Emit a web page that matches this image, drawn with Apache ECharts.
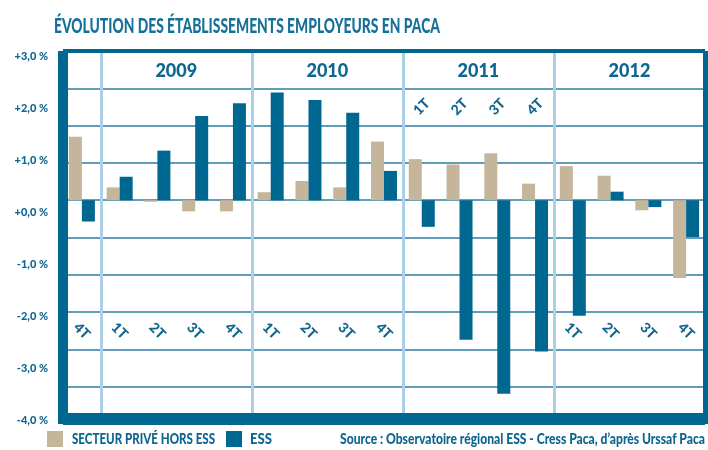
<!DOCTYPE html>
<html>
<head>
<meta charset="utf-8">
<script src="https://cdn.jsdelivr.net/npm/echarts@6/dist/echarts.min.js"></script>
<style>html,body{margin:0;padding:0;background:#fff;}#c{width:708px;height:450px;}</style>
</head>
<body>
<div id="c"></div>
<script>
const periods = ['2008 4T','2009 1T','2009 2T','2009 3T','2009 4T','2010 1T','2010 2T','2010 3T','2010 4T','2011 1T','2011 2T','2011 3T','2011 4T','2012 1T','2012 2T','2012 3T','2012 4T'];
const years = ['2009','2010','2011','2012'];
const topLabelYears = ['2011'];
const prive = [1.19, 0.24, -0.03, -0.21, -0.21, 0.15, 0.36, 0.24, 1.10, 0.77, 0.67, 0.88, 0.31, 0.64, 0.46, -0.19, -1.46];
const ess = [-0.40, 0.44, 0.93, 1.58, 1.82, 2.02, 1.88, 1.64, 0.55, -0.50, -2.62, -3.63, -2.84, -2.17, 0.16, -0.13, -0.69];
const yTickLabels = ['-4,0 %','-3,0 %','-2,0 %','-1,0 %','+0,0 %','+1,0 %','+2,0 %','+3,0 %'];
const seriesNames = ['SECTEUR PRIVÉ HORS ESS','ESS'];
const titleText = 'ÉVOLUTION DES ÉTABLISSEMENTS EMPLOYEURS EN PACA';
const sourceText = 'Source : Observatoire régional ESS - Cress Paca, d’après Urssaf Paca';

const FONT = 'Lato, Roboto, "Liberation Sans", sans-serif';
const BLUE = '#006791';
const BEIGE = '#c4b59b';
const TXT = '#0d6690';

const yearOf = p => p.split(' ')[0];
const qOf = p => p.split(' ')[1];
const yearCentre = {};
years.forEach(y => {
  const idx = periods.map((p,i)=>yearOf(p)===y?i:-1).filter(i=>i>=0);
  yearCentre[(idx[0] + idx[idx.length-1] + 1) / 2] = y;
});

// condensed look: horizontal squeeze so text fits the width it takes in the reference
const ctx = document.createElement('canvas').getContext('2d');
function squeeze(text, font, target) {
  ctx.font = font;
  return target / ctx.measureText(text).width;
}
const titleFont = '900 21px ' + FONT;
const srcFont = '900 15px ' + FONT;
const legFont = '900 15px ' + FONT;

const chart = echarts.init(document.getElementById('c'), null, {renderer:'canvas'});
const noTick = {show:false};
const legendColors = [BEIGE, BLUE];
const legendItems = [
  {sx:47, tx:72, tw:143},
  {sx:226, tx:250, tw:22}
];
const legendGraphics = [];
seriesNames.forEach((n, i) => {
  const L = legendItems[i];
  legendGraphics.push({type:'rect', x:L.sx, y:431, shape:{width:16, height:16}, style:{fill:legendColors[i]}});
  legendGraphics.push({type:'text', x:L.tx, y:439, scaleX:squeeze(n, legFont, L.tw),
    style:{text:n, fill:TXT, font:legFont, verticalAlign:'middle', align:'left'}});
});

chart.setOption({
  animation:false,
  backgroundColor:'#fff',
  textStyle:{fontFamily:FONT},
  grid:[
    {left:63, right:2.5, top:51, bottom:26},
    {left:63, right:2.5, top:56, bottom:30}
  ],
  xAxis:[
    {type:'category', gridIndex:0, data:periods, position:'bottom', offset:-5,
      axisLine:{onZero:false, lineStyle:{color:BLUE, width:12, cap:'butt'}},
      axisTick:noTick, axisLabel:{show:false},
      splitLine:{show:true, interval:(i)=> i>0 && yearOf(periods[i])!==yearOf(periods[i-1]), lineStyle:{color:'#a9d0e5', width:3}}},
    {type:'category', gridIndex:0, data:periods, position:'bottom',
      axisLine:{show:false, onZero:false}, axisTick:noTick, splitLine:{show:false},
      axisLabel:{show:true, inside:true, margin:93, rotate:-45, align:'center', verticalAlign:'middle', interval:0,
        color:TXT, fontFamily:FONT, fontWeight:900, fontSize:14,
        formatter:(v)=> topLabelYears.includes(yearOf(v)) ? '' : qOf(v)}},
    {type:'category', gridIndex:0, data:periods, position:'top',
      axisLine:{show:true, onZero:false, lineStyle:{color:BLUE, width:4, cap:'butt'}}, axisTick:noTick, splitLine:{show:false},
      axisLabel:{show:true, inside:true, margin:56, rotate:-45, align:'center', verticalAlign:'middle', interval:0,
        color:TXT, fontFamily:FONT, fontWeight:900, fontSize:14,
        formatter:(v)=> topLabelYears.includes(yearOf(v)) ? qOf(v) : ''}},
    {type:'value', gridIndex:0, position:'top', min:0, max:periods.length, interval:1,
      axisLine:{show:false, onZero:false}, axisTick:noTick, splitLine:{show:false},
      axisLabel:{show:true, inside:true, margin:20, verticalAlign:'middle', align:'center', showMinLabel:true, showMaxLabel:true,
        color:TXT, fontFamily:FONT, fontWeight:900, fontSize:18,
        formatter:(v)=> yearCentre[v] || ''}},
    {type:'value', gridIndex:1, show:false}
  ],
  yAxis:[
    {type:'value', gridIndex:0, position:'left', min:-4.2, max:2.8, interval:0.7,
      axisLine:{show:true, onZero:false, lineStyle:{color:BLUE, width:10, cap:'butt'}}, axisTick:noTick, axisLabel:{show:false},
      splitLine:{show:true, lineStyle:{color:'#2a7ca3', width:1.5}}},
    {type:'value', gridIndex:0, position:'right', min:-4.2, max:2.8, interval:0.7,
      axisLine:{show:true, onZero:false, lineStyle:{color:BLUE, width:5, cap:'butt'}}, axisTick:noTick, axisLabel:{show:false},
      splitLine:{show:false}},
    {type:'value', gridIndex:1, position:'left', min:-4, max:3, interval:1,
      axisLine:{show:false, onZero:false}, axisTick:noTick, splitLine:{show:false},
      axisLabel:{show:true, margin:15, color:TXT, fontFamily:FONT, fontWeight:900, fontSize:11,
        formatter:(v)=> yTickLabels[Math.round(v)+4]}}
  ],
  graphic:[
    {type:'text', x:54, y:26, scaleX:squeeze(titleText, titleFont, 386),
      style:{text:titleText, fill:'#17709a', font:titleFont, verticalAlign:'middle', align:'left'}},
    {type:'text', x:705, y:439, scaleX:squeeze(sourceText, srcFont, 365),
      style:{text:sourceText, fill:TXT, font:srcFont, verticalAlign:'middle', align:'right'}}
  ].concat(legendGraphics),
  series:[
    {name:seriesNames[0], type:'bar', xAxisIndex:0, yAxisIndex:0, data:prive, barWidth:13, barGap:'0%', itemStyle:{color:BEIGE}},
    {name:seriesNames[1], type:'bar', xAxisIndex:0, yAxisIndex:0, data:ess, barWidth:13, barGap:'0%', itemStyle:{color:BLUE}}
  ]
});
</script>
</body>
</html>
